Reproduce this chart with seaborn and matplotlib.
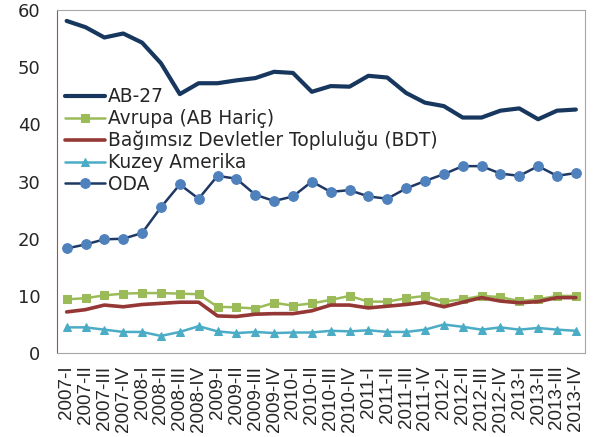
import numpy as np
import pandas as pd
import matplotlib
matplotlib.use("Agg")
import matplotlib.pyplot as plt
import seaborn as sns

# ceyrekler
years = ["2007", "2008", "2009", "2010", "2011", "2012", "2013"]
quarters = ["I", "II", "III", "IV"]
labels = [f"{y}-{q}" for y in years for q in quarters]

ab27 = [58.1, 57.0, 55.2, 55.9, 54.3, 50.7, 45.3, 47.2, 47.2, 47.7, 48.1, 49.2, 49.0, 45.7,
        46.7, 46.6, 48.5, 48.2, 45.5, 43.8, 43.2, 41.2, 41.2, 42.4, 42.8, 40.9, 42.4, 42.6]
avrupa = [9.4, 9.6, 10.1, 10.4, 10.5, 10.5, 10.4, 10.3, 8.1, 8.0, 7.8, 8.8, 8.3, 8.7,
          9.3, 10.0, 9.0, 9.0, 9.6, 10.0, 9.0, 9.4, 10.0, 9.8, 9.1, 9.4, 10.0, 10.0]
bdt = [7.2, 7.6, 8.4, 8.1, 8.5, 8.7, 8.9, 8.9, 6.5, 6.4, 6.8, 6.9, 6.9, 7.4,
       8.4, 8.4, 7.9, 8.2, 8.5, 8.9, 8.1, 8.9, 9.7, 9.1, 8.8, 9.0, 9.7, 9.7]
kuzey = [4.5, 4.5, 4.1, 3.7, 3.7, 3.0, 3.7, 4.7, 3.8, 3.5, 3.7, 3.5, 3.6, 3.6,
         3.9, 3.8, 4.0, 3.7, 3.7, 4.1, 5.0, 4.6, 4.1, 4.5, 4.1, 4.4, 4.1, 3.9]
oda = [18.3, 19.0, 19.9, 20.0, 21.0, 25.5, 29.5, 27.0, 31.0, 30.5, 27.7, 26.6, 27.4, 30.0,
       28.2, 28.5, 27.4, 27.0, 28.8, 30.1, 31.3, 32.7, 32.7, 31.4, 31.0, 32.7, 31.0, 31.5]

sns.set_style("white")
plt.rcParams['font.family'] = ['DejaVu Sans']

x = np.arange(len(labels))
fig, ax = plt.subplots(figsize=(5.96, 4.37), dpi=100)
fig.subplots_adjust(left=0.096, right=0.982, top=0.977, bottom=0.192)

sns.lineplot(x=x, y=ab27, ax=ax, color="#17375E", lw=3.0, label="AB-27")
sns.lineplot(x=x, y=avrupa, ax=ax, color="#9BBB59", lw=1.8, marker="s", markersize=6,
             markeredgecolor="#9BBB59", label="Avrupa (AB Hariç)")
sns.lineplot(x=x, y=bdt, ax=ax, color="#953735", lw=2.6, label="Bağımsız Devletler Topluluğu (BDT)")
sns.lineplot(x=x, y=kuzey, ax=ax, color="#4BACC6", lw=1.8, marker="^", markersize=6,
             markeredgecolor="#4BACC6", label="Kuzey Amerika")
sns.lineplot(x=x, y=oda, ax=ax, color="#1F3864", lw=1.8, marker="o", markersize=7,
             markerfacecolor="#4F81BD", markeredgecolor="#4F81BD", label="ODA")

ax.set_xlim(-0.5, len(labels) - 0.5)
ax.set_ylim(0, 60)
ax.set_yticks(range(0, 61, 10))
ax.set_xticks(x)
ax.set_xticklabels(labels, rotation=90, fontsize=13.5, family="Liberation Sans")
ax.set_xticks(np.arange(-0.5, len(labels), 1), minor=True)
ax.tick_params(axis="x", which="major", length=0, pad=9)
ax.tick_params(axis="x", which="minor", length=5, color="#A6A6A6", direction="out")
ax.tick_params(axis="y", length=6, color="#A0504D", direction="out", labelsize=13, pad=6)

for s in ["top", "right", "bottom"]:
    ax.spines[s].set_color("#A6A6A6")
ax.spines["left"].set_color("#A0504D")

ax.legend(loc="upper left", bbox_to_anchor=(0.015, 0.775), frameon=False, fontsize=13.4,
          handlelength=2.15, handletextpad=0.15, labelspacing=0.15, borderaxespad=0,
          borderpad=0)
ax.set_xlabel("")
ax.set_ylabel("")

plt.savefig("out.png", dpi=100)
